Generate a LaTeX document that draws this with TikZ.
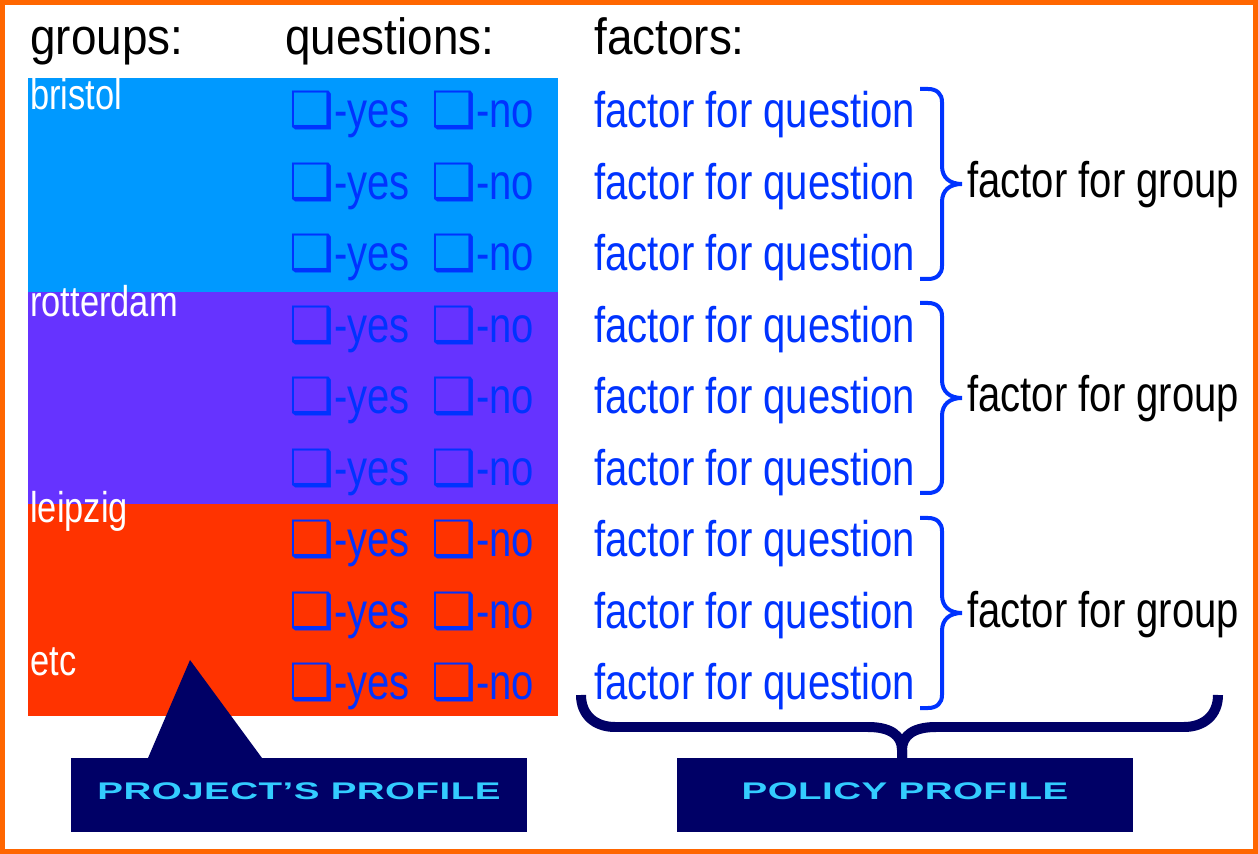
\documentclass[tikz,border=0pt]{standalone}
\usepackage{fontspec}
\setmainfont{Liberation Sans}
\newfontfamily\rowfont[FakeStretch=0.8]{Liberation Sans}
\newfontfamily\headfont[FakeStretch=0.9]{Liberation Sans}
\newfontfamily\titlefont[FakeStretch=1.6,LetterSpace=2]{Liberation Sans}
\newfontfamily\boxfont{DejaVu Sans}
\usetikzlibrary{positioning}

\definecolor{frameorange}{RGB}{255,102,0}
\definecolor{skyblock}{RGB}{0,153,255}
\definecolor{violetblock}{RGB}{102,51,255}
\definecolor{redblock}{RGB}{255,51,0}
\definecolor{inkblue}{RGB}{0,51,255}
\definecolor{navy}{RGB}{0,0,102}
\definecolor{titlecyan}{RGB}{51,204,255}

\tikzset{
  head/.style={anchor=base west,inner sep=0pt,font=\headfont\fontsize{29}{30}\selectfont},
  city/.style={anchor=base west,inner sep=0pt,text=white,font=\rowfont\fontsize{24.5}{26}\selectfont},
  answer/.style={anchor=base west,inner sep=0pt,text=inkblue,font=\rowfont\fontsize{28.5}{30}\selectfont},
  groupfac/.style={anchor=base west,inner sep=0pt,font=\rowfont\fontsize{28.5}{30}\selectfont},
  profilebox/.style={fill=navy,minimum width=9.12cm,minimum height=1.48cm,inner sep=0pt,
    text=titlecyan,text height=0.34cm,text depth=0.16cm,font=\titlefont\bfseries\fontsize{13.7}{14}\selectfont},
}

\begin{document}
\begin{tikzpicture}[x=0.02cm,y=-0.02cm]
				\useasboundingbox (0,0) rectangle (1258,854);
				\fill[white] (0,0) rectangle (1258,854);
				\draw[frameorange,line width=0.11cm] (2.75,2.75) rectangle (1255.25,851.25);

				% coloured group blocks
				\fill[skyblock] (28,78) rectangle (558,292);
				\fill[violetblock] (28,292) rectangle (558,504);
				\fill[redblock] (28,504) rectangle (558,716);

				\node[head](hgroups) at (30,55) {groups:};
				\node[head](hquest) at (285,55) {questions:};
				\node[head](hfactors) at (594,55) {factors:};

				\node[city](bristol) at (30,110) {bristol};
				\node[city](rotterdam) at (30,317) {rotterdam};
				\node[city](leipzig) at (30,523) {leipzig};
				\node[city](etc) at (30,675) {etc};

				\foreach \i in {0,...,8} {
					\pgfmathsetmacro{\by}{128+71.5*\i}
					\node[answer](yes\i) at (289,\by) {{\boxfont ❑}-yes};
					\node[answer](no\i) at (431,\by) {{\boxfont ❑}-no};
					\node[answer](fq\i) at (594,\by) {factor for question};
				}

				\foreach \g/\cy in {1/184,2/398,3/613} {
					\coordinate (tip\g) at (962,\cy);
					\draw[inkblue,line width=0.08cm] (920,\cy-95) -- (928,\cy-95)
						.. controls (937,\cy-95) and (942,\cy-90) .. (942,\cy-82) -- (942,\cy-18)
						.. controls (942,\cy-6) and (950,\cy) .. (tip\g)
						.. controls (950,\cy) and (942,\cy+6) .. (942,\cy+18) -- (942,\cy+82)
						.. controls (942,\cy+90) and (937,\cy+95) .. (928,\cy+95) -- (920,\cy+95);
					\node[groupfac](ffg\g) at (967,\cy+14) {factor for group};
				}

				\node[profilebox](projbox) at (299,795) {PROJECT’S PROFILE};
				\node[profilebox](polbox) at (905,795) {POLICY PROFILE};
				\fill[navy] (148,758) -- (190,660) -- (262,758) -- cycle;

				\coordinate (cusp) at (902,758);
				\draw[navy,line width=0.2cm] (581,695) .. controls (581,715) and (595,727) .. (615,727) -- (868,727)
					.. controls (890,727) and (902,735) .. (902,750) -- (cusp);
				\draw[navy,line width=0.2cm] (1218,695) .. controls (1218,715) and (1204,727) .. (1184,727) -- (936,727)
					.. controls (914,727) and (902,735) .. (902,750) -- (cusp);
			\end{tikzpicture}
\end{document}
